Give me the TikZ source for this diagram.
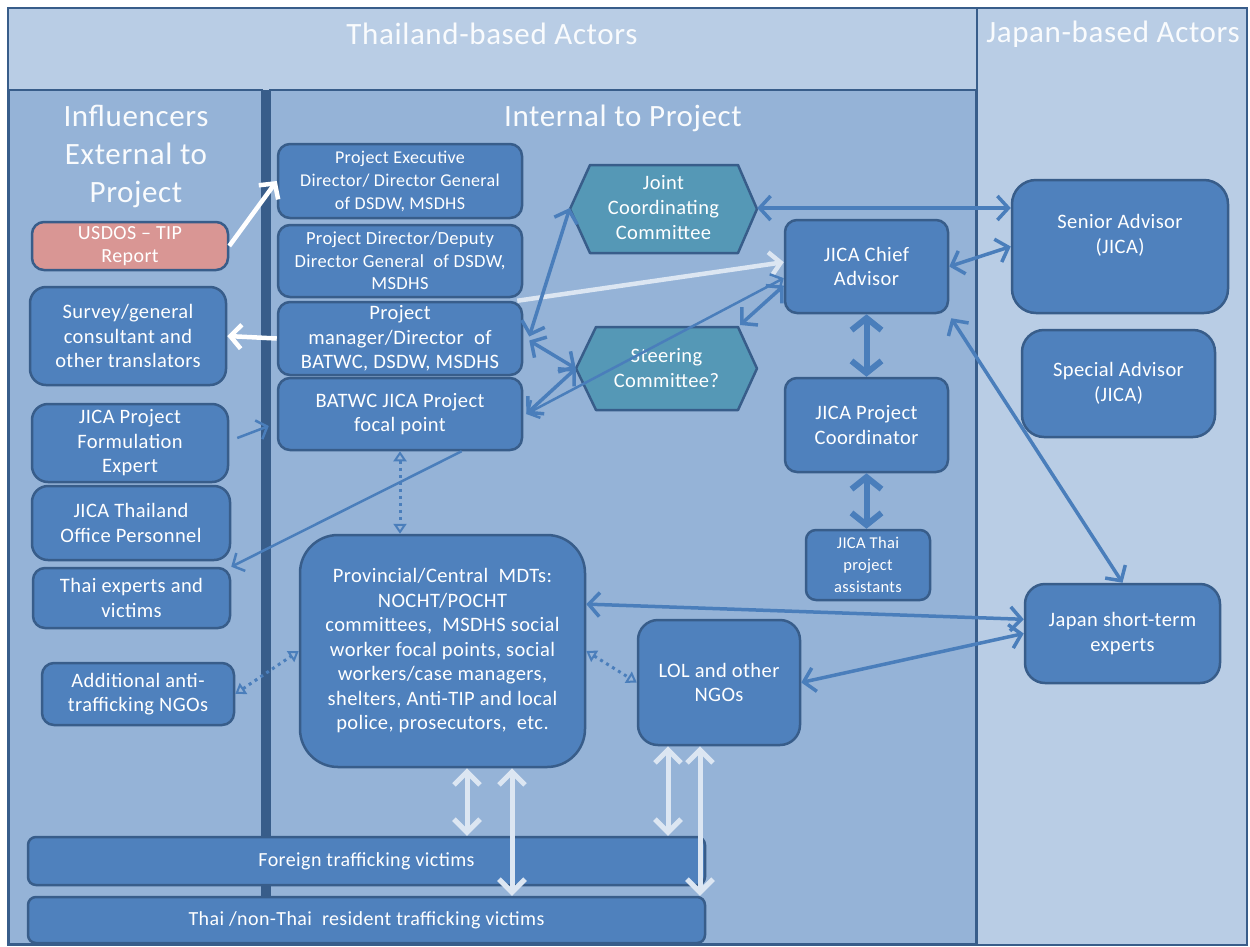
\documentclass[tikz,border=0pt]{standalone}
\usepackage{fontspec}
\setmainfont[LetterSpace=2]{Carlito}
\usetikzlibrary{arrows.meta,calc}
\definecolor{lightp}{HTML}{B9CDE5}
\definecolor{midp}{HTML}{95B3D7}
\definecolor{boxf}{HTML}{4F81BD}
\definecolor{boxd}{HTML}{385D8A}
\definecolor{hexf}{HTML}{5598B6}
\definecolor{pinkf}{HTML}{D99694}
\definecolor{whitea}{HTML}{DCE6F2}
\definecolor{bluea}{HTML}{4A7EBB}
\newcommand\bx[7][]{\node[box,minimum width={(#5-#3)*1pt},minimum height={(#6-#4)*1pt},#1] (#2) at ({(#3+#5)/2},{(#4+#6)/2}) {#7};}
\begin{document}
\begin{tikzpicture}[x=1pt,y=-1pt,
  box/.style={draw=boxd,fill=boxf,line width=2.5pt,rounded corners=12pt,text=white,align=center,inner sep=0pt,font=\fontsize{20.5}{24.5}\selectfont},
  hexshape/.style={draw=boxd,fill=hexf,line width=2.5pt,line join=round},
  hextext/.style={text=white,align=center,inner sep=0pt,font=\fontsize{20.5}{25}\selectfont},
  ttl/.style={text=white!92!lightp,align=center,inner sep=0pt,font=\fontsize{31}{38}\selectfont},
  wA/.style={draw=whitea,line width=4.5pt,>={Straight Barb[length=11pt,width=24pt]}},
  wW/.style={draw=white,line width=4.5pt,>={Straight Barb[length=11pt,width=24pt]}},
  bT/.style={draw=bluea,line width=2.5pt,>={Straight Barb[length=9pt,width=20pt]}},
  bM/.style={draw=bluea,line width=3.5pt,>={Straight Barb[length=11pt,width=24pt]}},
  bK/.style={draw=bluea,line width=6pt,>={Straight Barb[length=12pt,width=30pt]}},
  dA/.style={draw=bluea,line width=3pt,dash pattern=on 3pt off 4pt,>={Triangle[open,length=10pt,width=13pt,line width=2pt]}},
  vA/.style={draw=whitea,line width=5pt,>={Straight Barb[length=13pt,width=26pt]}}
]
\useasboundingbox (0,0) rectangle (1250,946);
% panels
\draw[boxd,line width=2.5pt,fill=lightp] (8,8) rectangle (977,945);
\draw[boxd,line width=2.5pt,fill=lightp] (977,8) rectangle (1247,945);
\draw[boxd,line width=2.5pt,fill=midp] (9,90) rectangle (262,944);
\draw[boxd,line width=2.5pt,fill=midp] (270,90) rectangle (976,944);
\fill[boxd] (261,90) rectangle (271,944);
% titles
\node[ttl] (tth) at (492,34) {Thailand-based Actors};
\node[ttl] (tjp) at (1113,34) {Japan-based Actors};
\node[ttl] (tinf) at (136,156) {Influencers\\External to\\Project};
\node[ttl] (tint) at (623,118) {Internal to Project};
% external boxes
\bx[fill=pinkf,font=\fontsize{20}{23}\selectfont]{usdos}{32}{222}{228}{270}{USDOS – TIP\\Report}
\bx[rounded corners=16pt]{survey}{30}{287}{226}{385}{Survey/general\\consultant and\\other translators}
\bx[rounded corners=16pt]{fe}{32}{404}{228}{482}{JICA Project\\Formulation\\Expert}
\bx[rounded corners=16pt]{jto}{32}{486}{230}{560}{JICA Thailand\\Office Personnel}
\bx{thx}{33}{568}{230}{628}{Thai experts and\\victims}
\bx{add}{42}{663}{234}{725}{Additional anti-\\trafficking NGOs}
% internal boxes
\bx[font=\fontsize{18}{23}\selectfont]{pex}{278}{144}{522}{218}{Project Executive\\Director/ Director General\\of DSDW, MSDHS}
\bx[font=\fontsize{18.5}{22.5}\selectfont]{pd}{278}{225}{522}{297}{Project Director/Deputy\\Director General\enspace of DSDW,\\MSDHS}
\bx{pm}{278}{302}{522}{375}{Project\\manager/Director\enspace of\\BATWC, DSDW, MSDHS}
\bx{bf}{278}{378}{522}{450}{BATWC JICA Project\\focal point}
\bx{chief}{785}{220}{948}{313}{JICA Chief\\Advisor}
\bx{coord}{785}{378}{948}{472}{JICA Project\\Coordinator}
\bx[font=\fontsize{16.5}{22}\selectfont,rounded corners=10pt]{ta}{806}{530}{930}{600}{JICA Thai\\project\\assistants}
\bx[rounded corners=38pt]{mdt}{300}{535}{585}{767}{Provincial/Central\enspace MDTs:\\NOCHT/POCHT\\committees,\enspace MSDHS social\\worker focal points, social\\workers/case managers,\\shelters, Anti-TIP and local\\police, prosecutors,\enspace etc.}
\bx[rounded corners=20pt]{lol}{638}{620}{800}{745}{LOL and other\\NGOs}
% Japan boxes
\bx[rounded corners=24pt]{sa}{1012}{180}{1228}{313}{}
\node[hextext] (satext) at (1120,235) {Senior Advisor\\(JICA)};
\bx[rounded corners=22pt]{spa}{1022}{330}{1215}{437}{Special Advisor\\(JICA)}
\bx[rounded corners=20pt]{jst}{1025}{584}{1220}{683}{Japan short-term\\experts}
% victims
\bx[rounded corners=8pt,font=\fontsize{20}{23}\selectfont]{fv}{28}{837}{705}{885}{Foreign trafficking victims}
\bx[rounded corners=8pt,font=\fontsize{20}{23}\selectfont]{tv}{28}{897}{705}{943}{Thai /non-Thai\enspace resident trafficking victims}
% hexagons
\draw[hexshape] (570,209) -- (590,165) -- (738,165) -- (757,209) -- (738,253) -- (590,253) -- cycle;
\node[hextext,minimum width=187pt,minimum height=88pt] (jcc) at (663.5,208) {Joint\\Coordinating\\Committee};
\draw[hexshape] (576,368.5) -- (596,327) -- (738,327) -- (757,368.5) -- (738,410) -- (596,410) -- cycle;
\node[hextext,minimum width=181pt,minimum height=83pt] (sc) at (666.5,368.5) {Steering\\Committee?};
\coordinate (scne) at (738,327);
% white arrows
\draw[wW,->] (usdos.east) -- (pex.west);
\draw[wA,->] ($(pm.north east)+(-6,0)$) -- (chief.177);
\draw[wW,->] (pm.west) -- (survey.east);
% thin blue
\draw[bT,->] ($(fe.east)+(8,-5)$) -- ($(bf.west)+(-8,12)$);
\draw[bT,->] ($(bf.south)!0.5!(bf.south east)$) -- (thx.north east);
\draw[bT,<->] ($(bf.east)+(3,0)$) -- (chief.188);
% medium blue
\draw[bM,<->] (jcc.west) -- ($(pm.east)+(6,-2)$);
\draw[bM,<->] (sc.west) -- ($(pm.east)+(6,2)$);
\draw[bM,<->] (sc.west) -- ($(bf.east)+(3,0)$);
\draw[bM,<->] ($(scne)+(2,-2)$) -- (chief.193);
\draw[bM,<->] (jcc.east) -- (jcc.east -| sa.west);
\draw[bM,<->] (chief.east) -- (sa.west);
\draw[bM,<->] ($(chief.south east)+(2,4)$) -- (jst.north);
\draw[bM,<->] ($(mdt.north east)!0.3!(mdt.south east)$) -- ($(jst.north west)!0.36!(jst.south west)$);
\draw[bM,<->] (lol.east) -- (jst.west);
% thick blue
\draw[bK,<->] (chief.south) -- (coord.north);
\draw[bK,<->] (coord.south) -- (coord.south |- ta.north);
% dotted
\draw[dA,<->] (bf.south) -- (bf.south |- mdt.north);
\draw[dA,<->] (add.east) -- (mdt.west);
\draw[dA,<->] (mdt.east) -- (lol.west);
% vertical white arrows
\coordinate (f1) at ($(mdt.south)+(24.5,0)$);
\coordinate (f2) at ($(mdt.south)+(69.5,0)$);
\coordinate (f3) at ($(lol.south)+(-51,0)$);
\coordinate (f4) at ($(lol.south)+(-19,0)$);
\draw[vA,<->] (f1) -- (f1 |- fv.north);
\draw[vA,<->] (f2) -- (f2 |- tv.north);
\draw[vA,<->] (f3) -- (f3 |- fv.north);
\draw[vA,<->] (f4) -- (f4 |- tv.north);
\end{tikzpicture}
\end{document}
